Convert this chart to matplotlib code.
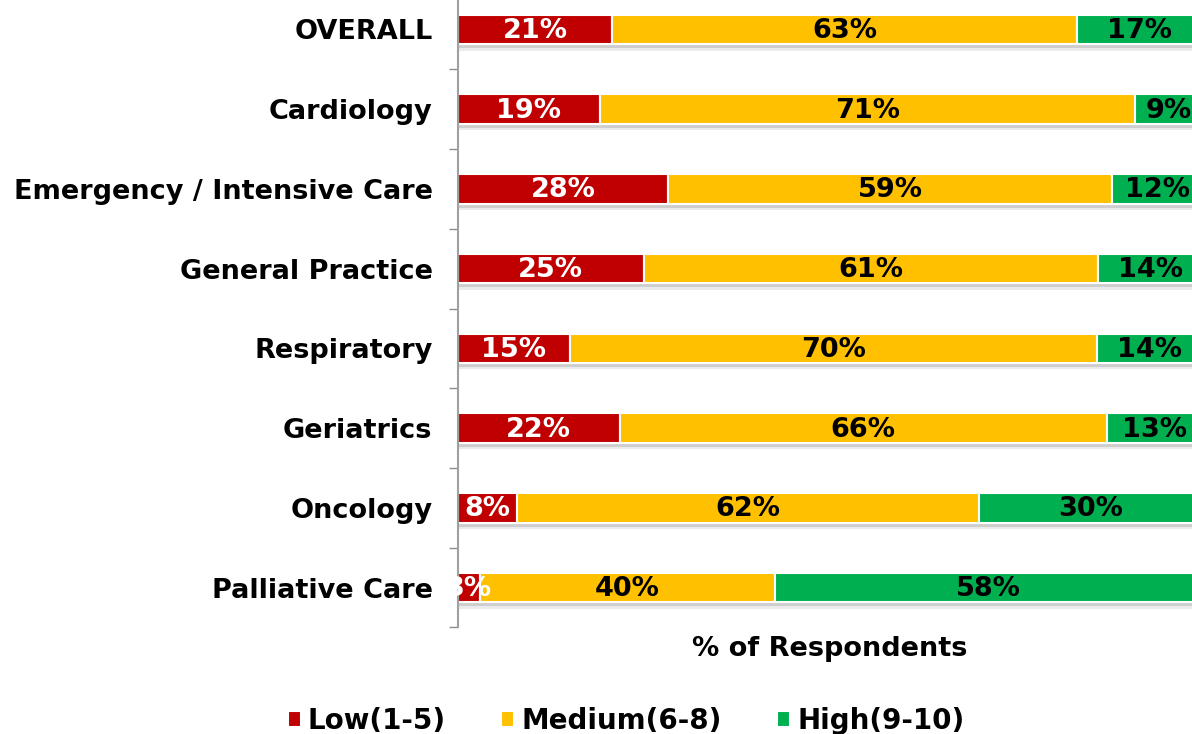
import matplotlib
matplotlib.use('Agg')
import matplotlib.pyplot as plt
import numpy as np

# data (rows top to bottom), % of respondents
categories = ['OVERALL', 'Cardiology', 'Emergency / Intensive Care',
              'General Practice', 'Respiratory', 'Geriatrics',
              'Oncology', 'Palliative Care']
low = [21, 19, 28, 25, 15, 22, 8, 3]
medium = [63, 71, 59, 61, 70, 66, 62, 40]
high = [17, 9, 12, 14, 14, 13, 30, 58]

series_names = ['Low(1-5)', 'Medium(6-8)', 'High(9-10)']
colors = ['#C00000', '#FFC000', '#00B050']
text_colors = ['white', 'black', 'black']

plt.rcParams['font.family'] = ['DejaVu Sans']
plt.rcParams['font.weight'] = 'bold'

fig = plt.figure(figsize=(11.92, 7.34), dpi=100)
# 100% of the scale runs a bit past the right edge, as in the original
ax = fig.add_axes([457.5 / 1192, 0.1452, 745 / 1192, 0.869])

y = np.arange(len(categories))
bar_h = 0.37

# 100% stacked: each row is scaled to its own total
data = np.array([low, medium, high], dtype=float)
totals = data.sum(axis=0)
shares = data / totals

# soft shadow under each bar
ax.barh(y + 0.05, np.ones(len(categories)), height=bar_h, color='#bcbcbc',
        alpha=0.6, zorder=1, linewidth=0)
ax.barh(y + 0.08, np.ones(len(categories)), height=bar_h, color='#dedede',
        alpha=0.6, zorder=0.9, linewidth=0)

left = np.zeros(len(categories))
for raw, vals, name, col, tcol in zip(data, shares, series_names,
                                      colors, text_colors):
    ax.barh(y, vals, left=left, height=bar_h, color=col, label=name,
            edgecolor='white', linewidth=1.5, zorder=2)
    for yi, (l, v, r) in enumerate(zip(left, vals, raw)):
        ax.text(l + v / 2, yi + 0.02, f'{int(r)}%', ha='center', va='center',
                color=tcol, fontsize=19.5, fontweight='bold', zorder=3)
    left = left + vals

ax.set_xlim(0, 1)
ax.set_ylim(len(categories) - 0.5, -0.5)
ax.set_yticks(y)
ax.set_yticklabels(categories, fontsize=19.5, fontweight='bold')
ax.set_yticks(np.arange(len(categories) + 1) - 0.5, minor=True)
ax.tick_params(axis='y', which='major', length=0, pad=18)
ax.tick_params(axis='y', which='minor', length=6.5, color='#8c8c8c', width=1)
ax.set_xticks([])

for s in ['top', 'right', 'bottom']:
    ax.spines[s].set_visible(False)
ax.spines['left'].set_color('#a0a0a0')
ax.spines['left'].set_linewidth(1.5)

ax.set_xlabel('% of Respondents', fontsize=19.5, fontweight='bold', labelpad=6)

fig.legend(loc='center', bbox_to_anchor=(626 / 1192, 1 - 721 / 734), ncol=3,
           frameon=False, handlelength=0.47, handleheight=0.5,
           handletextpad=0.25, columnspacing=2.0,
           prop={'weight': 'bold', 'size': 20})

fig.savefig('out.png', dpi=100)
